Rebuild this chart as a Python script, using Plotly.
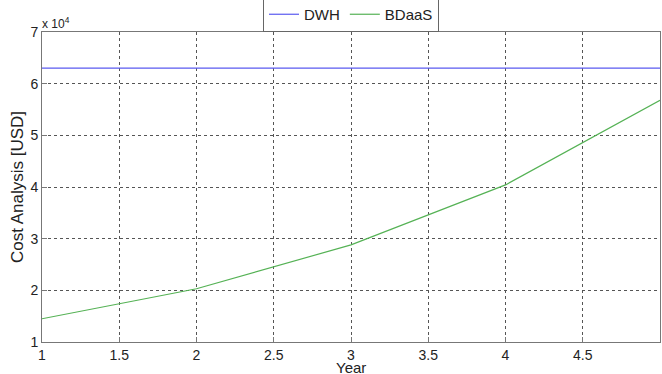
import plotly.graph_objects as go

years = [1, 2, 3, 4, 5]
dwh_cost = [63000, 63000, 63000, 63000, 63000]
bdaas_cost = [14500, 20300, 28800, 40400, 56800]
y_ticks = [10000, 20000, 30000, 40000, 50000, 60000, 70000]
y_tick_labels = ["1", "2", "3", "4", "5", "6", "7"]
x_ticks = [1, 1.5, 2, 2.5, 3, 3.5, 4, 4.5, 5]
x_tick_labels = ["1", "1.5", "2", "2.5", "3", "3.5", "4", "4.5", "5"]

fig = go.Figure()
fig.add_trace(go.Scatter(x=years, y=dwh_cost, mode="lines", name="DWH",
                         line=dict(color="#5a5af0", width=1.2)))
fig.add_trace(go.Scatter(x=years, y=bdaas_cost, mode="lines", name="BDaaS",
                         line=dict(color="#55b255", width=1.2)))

axis_common = dict(showline=True, mirror=True, linecolor="#777777", linewidth=1,
                   ticks="inside", ticklen=5, tickcolor="#777777",
                   showgrid=True, gridcolor="#555555", griddash="dot", gridwidth=1,
                   zeroline=False, tickfont=dict(family="Arial", size=14, color="#222222"))

fig.update_xaxes(range=[1, 5], tickvals=x_ticks, ticktext=x_tick_labels,
                 automargin=False, **axis_common)
fig.update_yaxes(range=[10000, 70000], tickvals=y_ticks, ticktext=y_tick_labels,
                 title=dict(text="Cost Analysis [USD]", font=dict(family="Arial", size=17, color="#222222"), standoff=2),
                 automargin=False, **axis_common)

fig.add_annotation(text="x 10<sup>4</sup>", xref="paper", yref="paper", x=0, y=1,
                   xanchor="left", yanchor="bottom", showarrow=False, xshift=-2, yshift=-1,
                   font=dict(family="Arial", size=12, color="#222222"))
fig.add_annotation(text="Year", xref="paper", yref="paper", x=0.5, y=0,
                   xanchor="center", yanchor="top", showarrow=False, yshift=-15,
                   font=dict(family="Arial", size=15, color="#222222"))

fig.update_layout(
    width=662, height=374,
    margin=dict(l=42, r=2, t=32, b=32, autoexpand=False),
    paper_bgcolor="white", plot_bgcolor="white",
    showlegend=True,
    legend=dict(orientation="h", x=0.5, xanchor="center", y=1, yanchor="bottom",
                bordercolor="#666666", borderwidth=1, bgcolor="white",
                font=dict(family="Arial", size=15, color="#222222"),
                itemwidth=30, tracegroupgap=0),
)

fig.write_html("out.html", config={"displayModeBar": False},
               post_script="document.body.style.margin='0';document.body.style.overflow='hidden';")
